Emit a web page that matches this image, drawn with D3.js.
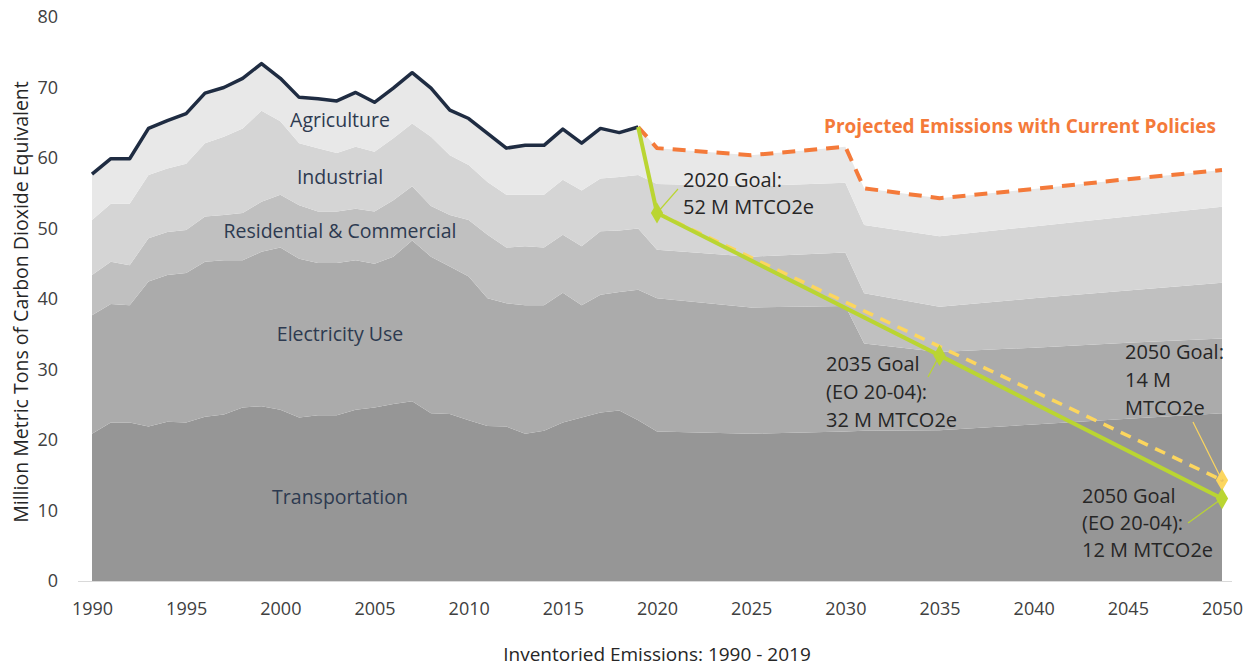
<!DOCTYPE html>
<html>
<head>
<meta charset="utf-8">
<script src="https://cdn.jsdelivr.net/npm/d3@7"></script>
<style>
  body { margin: 0; background: #ffffff; }
  svg text { font-family: "Open Sans", "Noto Sans", sans-serif; }
</style>
</head>
<body>
<div id="chart"></div>
<script>

// ---- data (million metric tons CO2e) ----
var years = [1990, 1991, 1992, 1993, 1994, 1995, 1996, 1997, 1998, 1999,
             2000, 2001, 2002, 2003, 2004, 2005, 2006, 2007, 2008, 2009,
             2010, 2011, 2012, 2013, 2014, 2015, 2016, 2017, 2018, 2019,
             2020, 2025, 2030, 2031, 2035, 2040, 2045, 2050];

var transportation = [20.9, 22.5, 22.5, 21.9, 22.6, 22.5, 23.3, 23.6, 24.6, 24.8,
                      24.3, 23.2, 23.5, 23.5, 24.3, 24.6, 25.1, 25.5, 23.8, 23.7,
                      22.8, 22.0, 21.9, 20.9, 21.3, 22.5, 23.2, 23.9, 24.2, 22.8,
                      21.2, 20.9, 21.2, 21.3, 21.4, 22.2, 23.0, 23.8];
var electricity = [16.8, 16.8, 16.6, 20.6, 20.8, 21.2, 22.0, 21.9, 20.9, 21.9,
                   23.0, 22.5, 21.6, 21.6, 21.2, 20.4, 20.9, 22.8, 22.2, 20.9,
                   20.4, 18.1, 17.5, 18.2, 17.8, 18.4, 15.9, 16.7, 16.8, 18.5,
                   18.9, 17.9, 17.8, 12.4, 11.1, 10.9, 10.8, 10.6];
var residential = [5.7, 6.0, 5.7, 6.1, 6.1, 6.1, 6.4, 6.4, 6.7, 7.1,
                   7.5, 7.6, 7.3, 7.3, 7.3, 7.4, 8.0, 7.7, 7.2, 7.3,
                   8.0, 9.0, 7.9, 8.4, 8.2, 8.2, 8.4, 9.0, 8.7, 8.7,
                   6.9, 7.2, 7.6, 7.1, 6.4, 7.0, 7.4, 7.9];
var industrial = [7.8, 8.2, 8.7, 9.0, 9.0, 9.4, 10.4, 11.1, 12.0, 12.9,
                  10.4, 8.8, 9.0, 8.3, 8.8, 8.5, 8.8, 8.9, 9.8, 8.5,
                  7.8, 7.5, 7.5, 7.3, 7.5, 7.8, 7.9, 7.5, 7.6, 7.6,
                  9.3, 10.0, 9.9, 9.7, 10.0, 10.2, 10.5, 10.8];
var agriculture = [6.5, 6.4, 6.4, 6.6, 6.8, 7.1, 7.1, 7.0, 7.1, 6.7,
                   6.1, 6.5, 7.0, 7.4, 7.7, 7.0, 7.1, 7.2, 6.9, 6.4,
                   6.6, 6.9, 6.6, 7.0, 7.0, 7.2, 6.7, 7.1, 6.3, 6.8,
                   5.1, 4.4, 5.1, 5.2, 5.4, 5.3, 5.3, 5.2];

var sectors = ["Transportation", "Electricity Use", "Residential & Commercial", "Industrial", "Agriculture"];
var sectorValues = [transportation, electricity, residential, industrial, agriculture];
var lastInventoryYear = 2019;

// goals (EO 20-04) and the 2050 goal of 14 M
var goalYears = [2020, 2035, 2050];
var goalValues = [52.2, 32.0, 11.7];
var altGoalYears = [2020, 2050];
var altGoalValues = [52.2, 14.3];

var yTicks = [0, 10, 20, 30, 40, 50, 60, 70, 80];
var xTicks = [1990, 1995, 2000, 2005, 2010, 2015, 2020, 2025, 2030, 2035, 2040, 2045, 2050];

// ---- layout ----
var w = 1251, h = 668;
var layerColors = ["#969696", "#ababab", "#c0c0c0", "#d5d5d5", "#e8e8e8"];
var labelColor = "#2d3a50";
var navy = "#1f2c42", orange = "#f47a3a", green = "#bad532", yellow = "#fcd65e";

var x = d3.scaleLinear().domain([1990, 2050]).range([92, 1222]);
var y = d3.scaleLinear().domain([0, 80]).range([581, 17]);

var svg = d3.select("#chart").append("svg")
  .attr("width", w).attr("height", h);

// build table for the stack
var table = years.map(function(yr, i) {
  var row = { year: yr };
  sectors.forEach(function(s, k) { row[s] = sectorValues[k][i]; });
  return row;
});
var series = d3.stack().keys(sectors)(table);

var area = d3.area()
  .x(function(d) { return x(d.data.year); })
  .y0(function(d) { return y(d[0]); })
  .y1(function(d) { return y(d[1]); });

svg.append("g").selectAll("path")
  .data(series).enter().append("path")
  .attr("d", area)
  .attr("fill", function(d, i) { return layerColors[i]; });

// baseline
svg.append("line")
  .attr("x1", 78).attr("x2", 1232)
  .attr("y1", y(0) + 0.5).attr("y2", y(0) + 0.5)
  .attr("stroke", "#d9d9d9").attr("stroke-width", 1);

// total line (inventory) and projection
var totalSeries = Array.from(series[series.length - 1]);
var line = d3.line()
  .x(function(d) { return x(d.data.year); })
  .y(function(d) { return y(d[1]); });

var inventory = totalSeries.filter(function(d) { return d.data.year <= lastInventoryYear; });
var projection = totalSeries.filter(function(d) { return d.data.year >= lastInventoryYear; });

svg.append("path")
  .attr("d", line(projection))
  .attr("fill", "none").attr("stroke", orange)
  .attr("stroke-width", 4).attr("stroke-dasharray", "13,9");

svg.append("path")
  .attr("d", line(inventory))
  .attr("fill", "none").attr("stroke", navy)
  .attr("stroke-width", 3.5).attr("stroke-linejoin", "round");

// goal lines
var startTotal = inventory[inventory.length - 1][1];
var goalPts = [[lastInventoryYear, startTotal]].concat(goalYears.map(function(g, i) { return [g, goalValues[i]]; }));
var altPts = altGoalYears.map(function(g, i) { return [g, altGoalValues[i]]; });

var pline = d3.line()
  .x(function(d) { return x(d[0]); })
  .y(function(d) { return y(d[1]); });

svg.append("path")
  .attr("d", pline(altPts))
  .attr("fill", "none").attr("stroke", yellow)
  .attr("stroke-width", 3.5).attr("stroke-dasharray", "11,8");

svg.append("path")
  .attr("d", pline(goalPts))
  .attr("fill", "none").attr("stroke", green)
  .attr("stroke-width", 4).attr("stroke-linejoin", "round");

var diamond = d3.symbol().type(d3.symbolDiamond).size(130);

svg.append("path")
  .attr("d", diamond)
  .attr("transform", "translate(" + x(altPts[1][0]) + "," + y(altPts[1][1]) + ")")
  .attr("fill", yellow);
svg.append("circle")
  .attr("cx", x(altPts[1][0])).attr("cy", y(altPts[1][1])).attr("r", 1.5)
  .attr("fill", "#e8c060");

svg.append("g").selectAll("path")
  .data(goalPts.slice(1)).enter().append("path")
  .attr("d", diamond)
  .attr("transform", function(d) { return "translate(" + x(d[0]) + "," + y(d[1]) + ")"; })
  .attr("fill", green);

// ---- annotations ----
var place_note = function(lines, tx, ty, lh) {
  var t = svg.append("text")
    .attr("x", tx).attr("y", ty)
    .attr("font-size", 20).attr("fill", "#262626");
  lines.forEach(function(s, i) {
    t.append("tspan").attr("x", tx).attr("dy", i == 0 ? 0 : lh).text(s);
  });
};
var leader = function(x1, y1, x2, y2, color) {
  svg.append("line")
    .attr("x1", x1).attr("y1", y1).attr("x2", x2).attr("y2", y2)
    .attr("stroke", color).attr("stroke-width", 1.2);
};

leader(678, 189, x(2020), y(52.2), green);
place_note(["2020 Goal:", "52 M MTCO2e"], 683, 187, 27);

leader(x(2035), y(32), 928, 377, green);
place_note(["2035 Goal", "(EO 20-04):", "32 M MTCO2e"], 826, 371, 28);

leader(1193, 422, x(2050), y(14.3), yellow);
place_note(["2050 Goal:", "14 M", "MTCO2e"], 1125, 359, 28);

leader(1188, 523, x(2050), y(11.7), green);
place_note(["2050 Goal", "(EO 20-04):", "12 M MTCO2e"], 1082, 503, 27);

svg.append("text")
  .attr("x", 1216).attr("y", 133)
  .attr("text-anchor", "end")
  .attr("font-size", 19).attr("font-weight", "bold")
  .attr("fill", orange)
  .text("Projected Emissions with Current Policies");

// sector labels
var sectorLabelY = [496, 333, 230, 176, 119];
svg.append("g").selectAll("text")
  .data(sectors).enter().append("text")
  .attr("x", 340)
  .attr("y", function(d, i) { return sectorLabelY[i]; })
  .attr("text-anchor", "middle")
  .attr("dominant-baseline", "central")
  .attr("font-size", 19.5)
  .attr("fill", labelColor)
  .text(function(d) { return d; });

// ---- axes ----
var yAxis = d3.axisLeft(y).tickValues(yTicks).tickSize(0).tickPadding(0);
var gy = svg.append("g").attr("transform", "translate(58,0)").call(yAxis);
var xAxis = d3.axisBottom(x).tickValues(xTicks).tickSize(0).tickPadding(0).tickFormat(d3.format("d"));
var gx = svg.append("g").attr("transform", "translate(0,602)").call(xAxis);

[gy, gx].forEach(function(g) {
  g.select(".domain").remove();
  g.selectAll("text")
    .attr("font-size", 18)
    .attr("font-family", "\"Open Sans\", \"Noto Sans\", sans-serif")
    .attr("fill", "#404040");
});

svg.append("text")
  .attr("transform", "translate(28,302) rotate(-90)")
  .attr("text-anchor", "middle")
  .attr("font-size", 19.5).attr("fill", "#262626")
  .text("Million Metric Tons of Carbon Dioxide Equivalent");

svg.append("text")
  .attr("x", 657).attr("y", 661)
  .attr("text-anchor", "middle")
  .attr("font-size", 19).attr("fill", "#262626")
  .text("Inventoried Emissions: 1990 - 2019");

</script>
</body>
</html>
